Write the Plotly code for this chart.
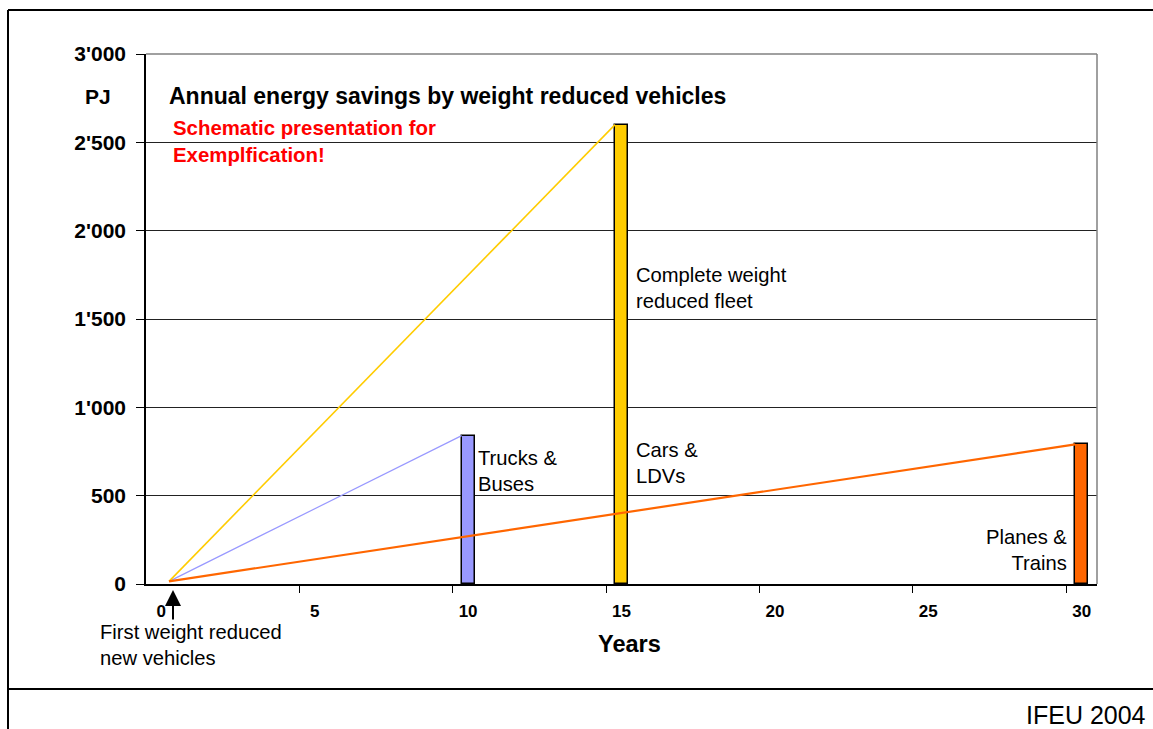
import plotly.graph_objects as go

# ---- data -------------------------------------------------------------
groups = ["Trucks & Buses", "Cars & LDVs", "Planes & Trains"]
years_full = [10, 15, 30]            # years until the whole fleet is weight reduced
savings_pj = [840, 2600, 790]        # annual savings of the complete fleet, PJ
bar_colors = ["#9999FF", "#FFCC00", "#FF6600"]
line_widths = [1.2, 1.6, 2.2]

start_year = 0.25                    # first weight reduced new vehicles
start_pj = 15

x_tick_vals = [0, 5, 10, 15, 20, 25, 30]
x_tick_text = ["0", "5", "10", "15", "20", "25", "30"]
y_tick_vals = [0, 500, 1000, 1500, 2000, 2500, 3000]
y_tick_text = ["0", "500", "1'000", "1'500", "2'000", "2'500", "3'000"]

# ---- layout geometry (pixels) ----------------------------------------
W, H = 1153, 729
L, R, T, B = 146, 1097, 54, 584
BAR_W = 0.42
FONT = "Liberation Sans, Arial, sans-serif"


def px(x):
    return (x - L) / (R - L)


def py(y):
    return (B - y) / (B - T)


fig = go.Figure()

fig.add_trace(go.Bar(
    x=years_full, y=savings_pj, width=BAR_W,
    marker=dict(color=bar_colors, line=dict(color="#000000", width=1.5)),
    showlegend=False, hoverinfo="x+y",
))

# growth of savings while the fleet is renewed
for yr, val, col, lw in zip(years_full, savings_pj, bar_colors, line_widths):
    fig.add_trace(go.Scatter(
        x=[start_year, yr - BAR_W / 2], y=[start_pj, val],
        mode="lines", line=dict(color=col, width=lw),
        showlegend=False, hoverinfo="skip",
    ))


def label(text, x, y, size, xanchor="left", bold=False, color="#000000", align="left"):
    if bold:
        text = "<b>" + text.replace("<br>", "</b><br><b>") + "</b>"
    fig.add_annotation(
        text=text, x=px(x), y=py(y), xref="paper", yref="paper",
        xanchor=xanchor, yanchor="middle", align=align, showarrow=False,
        font=dict(family=FONT, size=size, color=color),
    )


label("PJ", 98, 96, 21, xanchor="center", bold=True)
label("Annual energy savings by weight reduced vehicles", 167, 96, 23, bold=True)
label("Schematic presentation for<br>Exemplfication!", 171, 141, 20.4, bold=True, color="#FF0000")
label("Complete weight<br>reduced fleet", 634, 288, 20.2)
label("Cars &<br>LDVs", 634, 463, 20.2)
label("Trucks &<br>Buses", 476, 471, 20.2)
label("Planes &<br>Trains", 1069, 550, 20.2, xanchor="right", align="right")
label("First weight reduced<br>new vehicles", 98, 645, 20.2)
label("Years", 629, 644, 23.5, xanchor="center", bold=True)
label("IFEU 2004", 1148, 715, 25, xanchor="right")

# arrow marking the first weight reduced new vehicles
fig.add_annotation(
    x=px(173), y=py(590), xref="paper", yref="paper",
    ax=0, ay=31, axref="pixel", ayref="pixel", text="",
    showarrow=True, arrowhead=2, arrowsize=1.6, arrowwidth=2,
    arrowcolor="#000000", standoff=0,
)

shapes = [
    # plot area border (top and right)
    dict(type="line", xref="paper", yref="paper", x0=0, x1=1, y0=1, y1=1,
         line=dict(color="#808080", width=1.5)),
    dict(type="line", xref="paper", yref="paper", x0=1, x1=1, y0=0, y1=1,
         line=dict(color="#808080", width=1.5)),
    # outer frame and footer separator
    dict(type="line", xref="paper", yref="paper", x0=px(8), x1=px(8), y0=py(10), y1=py(729),
         line=dict(color="#000000", width=2)),
    dict(type="line", xref="paper", yref="paper", x0=px(8), x1=px(1153), y0=py(10), y1=py(10),
         line=dict(color="#000000", width=2)),
    dict(type="line", xref="paper", yref="paper", x0=px(8), x1=px(1153), y0=py(689), y1=py(689),
         line=dict(color="#000000", width=2)),
]

fig.update_layout(
    width=W, height=H,
    margin=dict(l=L, r=W - R, t=T, b=H - B, pad=0),
    paper_bgcolor="#FFFFFF", plot_bgcolor="#FFFFFF",
    font=dict(family=FONT, color="#000000"),
    shapes=shapes, bargap=0,
    xaxis=dict(
        range=[-0.5, 30.5], tickmode="array", tickvals=x_tick_vals,
        ticktext=["<b>%s</b>" % t for t in x_tick_text],
        ticks="", showgrid=False, zeroline=False,
        showline=True, linecolor="#000000", linewidth=1.5,
        tickfont=dict(family=FONT, size=17, color="#000000"),
        ticklabelstandoff=11,
        minor=dict(tickmode="array", tickvals=[4.5, 9.5, 14.5, 19.5, 24.5, 29.5],
                   ticks="outside", ticklen=7, tickcolor="#000000", tickwidth=1, showgrid=False),
    ),
    yaxis=dict(
        range=[0, 3000], tickmode="array", tickvals=y_tick_vals,
        ticktext=["<b>%s</b>" % t for t in y_tick_text],
        ticks="outside", ticklen=8, tickcolor="#000000", tickwidth=1,
        showgrid=True, gridcolor="#222222", gridwidth=1, zeroline=False,
        showline=True, linecolor="#000000", linewidth=1.5,
        tickfont=dict(family=FONT, size=21, color="#000000"),
        ticklabelstandoff=6,
    ),
)

fig.write_html("out.html")
